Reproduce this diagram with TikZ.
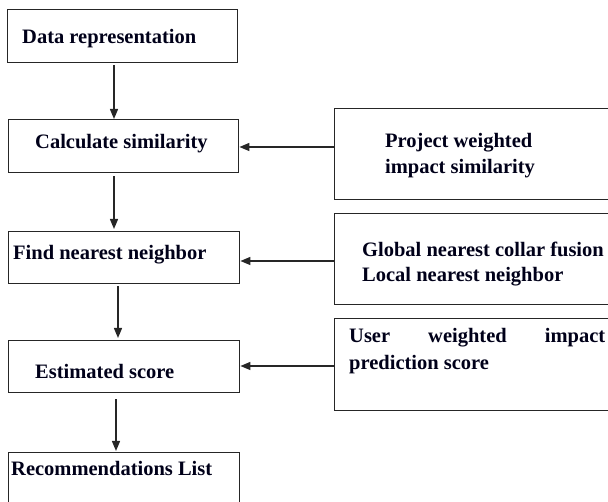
\documentclass[tikz,border=0pt]{standalone}
\usepackage{fontspec}
\setmainfont{Liberation Serif}
\usetikzlibrary{arrows.meta,calc}
\begin{document}
\begin{tikzpicture}[x=1pt,y=-1pt,
  box/.style={draw=black!85,line width=1.4pt,rectangle,anchor=north west,inner sep=0pt},
  lbl/.style={anchor=west,inner sep=0pt,font=\fontsize{20.5}{26}\selectfont\bfseries,text=black!90!blue},
  arr/.style={line width=1.4pt,draw=black!85,-{Triangle[width=8pt,length=10pt]}}]
\useasboundingbox (0,0) rectangle (608,502);
\clip (0,0) rectangle (608,502);
% main column
\node[box,minimum width=230pt,minimum height=53pt] (b1) at (7,9) {};
\node[box,minimum width=230pt,minimum height=53pt] (b2) at (8,119) {};
\node[box,minimum width=231pt,minimum height=52pt] (b3) at (8,231) {};
\node[box,minimum width=231pt,minimum height=52pt] (b4) at (8,340) {};
\node[box,minimum width=231pt,minimum height=70pt] (b5) at (8,452) {};
\node[lbl] (t1) at (22,39) {Data representation};
\node[lbl] (t2) at (35,144) {Calculate similarity};
\node[lbl] (t3) at (13,255) {Find nearest neighbor};
\node[lbl] (t4) at (35,371) {Estimated score};
\node[lbl] (t5) at (11,468) {Recommendations List};
% side column (runs past the right edge)
\node[box,minimum width=300pt,minimum height=91pt] (s1) at (334,108) {};
\node[box,minimum width=300pt,minimum height=91pt] (s2) at (334,213) {};
\node[box,minimum width=300pt,minimum height=92pt] (s3) at (334,318) {};
\node[lbl] (u1) at (385,143) {Project weighted};
\node[lbl] (u2) at (385,169) {impact similarity};
\node[lbl] (v1) at (362,249) {Global nearest collar fusion};
\node[lbl] (v2) at (362,277) {Local nearest neighbor};
\node[lbl] (w1) at (349,338) {\hbox to 256pt{User\hfill weighted\hfill impact}};
\node[lbl] (w2) at (349,365) {prediction score};
% vertical flow
\draw[arr] ($(b1.south west)+(107,2)$) -- ($(b2.north west)+(106,0)$);
\draw[arr] ($(b2.south west)+(106,3)$) -- ($(b3.north west)+(106,-2)$);
\draw[arr] ($(b3.south west)+(110,2)$) -- ($(b4.north west)+(110,-2)$);
\draw[arr] ($(b4.south west)+(108,6)$) -- ($(b5.north west)+(108,-1)$);
% side inputs
\draw[arr] (s1.west |- 0,147) -- (b2.east |- 0,147);
\draw[arr] (s2.west |- 0,261) -- (b3.east |- 0,261);
\draw[arr] (s3.west |- 0,366) -- (b4.east |- 0,366);
\end{tikzpicture}
\end{document}
